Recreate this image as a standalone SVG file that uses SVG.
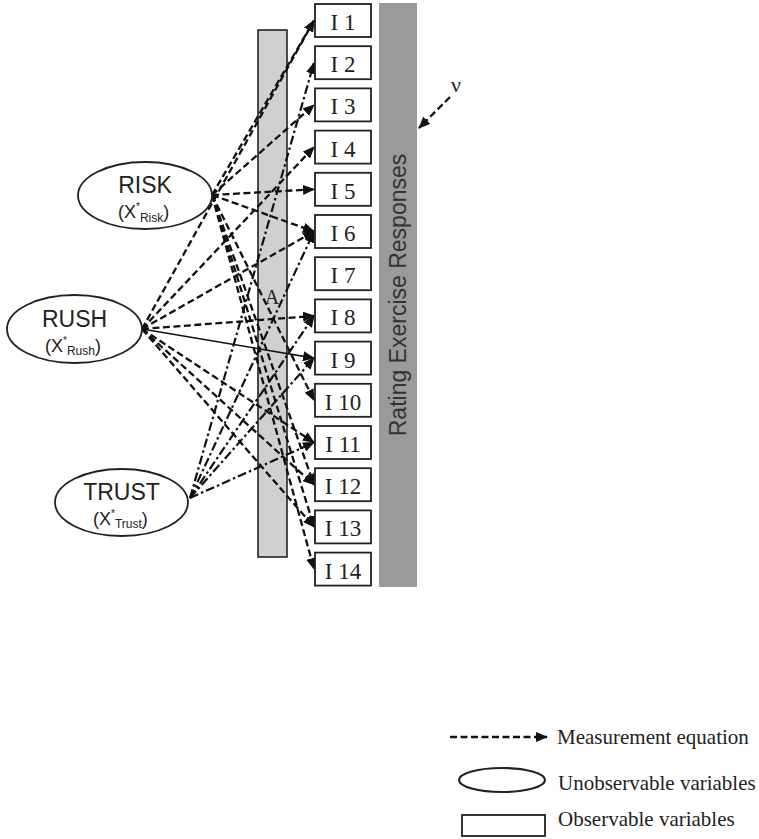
<svg xmlns="http://www.w3.org/2000/svg" width="759" height="839" viewBox="0 0 759 839">
<defs>
<marker id="ah" markerUnits="userSpaceOnUse" markerWidth="12" markerHeight="10" refX="11" refY="5" orient="auto"><path d="M0,0 L12,5 L0,10 z" fill="#111"/></marker>
</defs>
<style>
.box{fill:#fff;stroke:#222;stroke-width:1.8}
.lbl{font-family:"Liberation Serif","Times New Roman",serif;font-size:23px;fill:#222;text-anchor:middle}
.ell{fill:#fff;stroke:#222;stroke-width:1.8}
.ttl{font-family:"Liberation Sans",Arial,sans-serif;font-size:23px;fill:#222;text-anchor:middle}
.sub{font-family:"Liberation Sans",Arial,sans-serif;fill:#222}
.d{fill:none;stroke:#111;stroke-width:2.3;stroke-dasharray:7 3.5;marker-end:url(#ah)}
.dd{fill:none;stroke:#111;stroke-width:2.2;stroke-dasharray:9 3 2.5 3;marker-end:url(#ah)}
.s{fill:none;stroke:#111;stroke-width:1.6;marker-end:url(#ah)}
.leg{font-family:"Liberation Serif","Times New Roman",serif;font-size:21px;fill:#222}
</style>
<rect x="0" y="0" width="759" height="839" fill="#fff"/>
<g id="rating-bar">
<rect x="379" y="3" width="38" height="584" fill="#9a9a9a"/>
<text transform="translate(406,295) rotate(-90)" x="0" y="0" font-family="'Liberation Sans',Arial,sans-serif" font-size="23" fill="#333" text-anchor="middle">Rating Exercise Responses</text>
</g>
<g id="lambda-bar">
<rect x="258" y="30" width="29" height="527" fill="#d0d0d0" stroke="#222" stroke-width="1.6"/>
<text x="272" y="304" font-family="'Liberation Serif','Times New Roman',serif" font-size="20" fill="#222" text-anchor="middle">A</text>
</g>
<g id="connectors">
<line class="d" x1="212" y1="195" x2="314" y2="20.5"/>
<line class="d" x1="212" y1="195" x2="314" y2="104.9"/>
<line class="d" x1="212" y1="195" x2="314" y2="189.3"/>
<line class="d" x1="212" y1="195" x2="314" y2="231.5"/>
<line class="d" x1="212" y1="195" x2="314" y2="400.3"/>
<line class="d" x1="212" y1="195" x2="314" y2="484.7"/>
<line class="d" x1="212" y1="195" x2="314" y2="526.9"/>
<line class="d" x1="212" y1="195" x2="314" y2="569.1"/>
<line class="d" x1="142" y1="329" x2="314" y2="20.5"/>
<line class="d" x1="142" y1="329" x2="314" y2="147.1"/>
<line class="d" x1="142" y1="329" x2="314" y2="231.5"/>
<line class="d" x1="142" y1="329" x2="314" y2="315.9"/>
<line class="s" x1="142" y1="329" x2="314" y2="358.1"/>
<line class="d" x1="142" y1="329" x2="314" y2="442.5"/>
<line class="d" x1="142" y1="329" x2="314" y2="484.7"/>
<line class="d" x1="142" y1="329" x2="314" y2="526.9"/>
<line class="dd" x1="190" y1="498" x2="314" y2="62.7"/>
<line class="dd" x1="190" y1="498" x2="314" y2="231.5"/>
<line class="dd" x1="190" y1="498" x2="314" y2="315.9"/>
<line class="dd" x1="190" y1="498" x2="314" y2="358.1"/>
<line class="dd" x1="190" y1="498" x2="314" y2="442.5"/>
<line class="d" x1="450" y1="97" x2="419" y2="128"/>
</g>
<text x="456" y="92" font-family="'Liberation Serif','Times New Roman',serif" font-size="22" fill="#222" text-anchor="middle">ν</text>
<g id="RISK">
<ellipse class="ell" cx="145" cy="195.5" rx="67" ry="33.5"/>
<text class="ttl" x="145" y="193">RISK</text>
<text class="sub" x="118" y="218" font-size="18">(X<tspan font-size="10" dy="-8">*</tspan><tspan font-size="12" dy="12">Risk</tspan><tspan font-size="18" dy="-4">)</tspan></text>
</g>
<g id="RUSH">
<ellipse class="ell" cx="74.5" cy="329" rx="67.5" ry="34"/>
<text class="ttl" x="74.5" y="327">RUSH</text>
<text class="sub" x="45" y="352" font-size="18">(X<tspan font-size="10" dy="-8">*</tspan><tspan font-size="12" dy="11">Rush</tspan><tspan font-size="18" dy="-3">)</tspan></text>
</g>
<g id="TRUST">
<ellipse class="ell" cx="121.5" cy="502.5" rx="66.5" ry="33.5"/>
<text class="ttl" x="121.5" y="500">TRUST</text>
<text class="sub" x="93" y="525" font-size="18">(X<tspan font-size="10" dy="-8">*</tspan><tspan font-size="12" dy="11">Trust</tspan><tspan font-size="18" dy="-3">)</tspan></text>
</g>
<g id="I1"><rect class="box" x="315" y="4" width="56" height="33"/><text class="lbl" x="343" y="30">I 1</text></g>
<g id="I2"><rect class="box" x="315" y="46.2" width="56" height="33"/><text class="lbl" x="343" y="72.2">I 2</text></g>
<g id="I3"><rect class="box" x="315" y="88.4" width="56" height="33"/><text class="lbl" x="343" y="114.4">I 3</text></g>
<g id="I4"><rect class="box" x="315" y="130.6" width="56" height="33"/><text class="lbl" x="343" y="156.6">I 4</text></g>
<g id="I5"><rect class="box" x="315" y="172.8" width="56" height="33"/><text class="lbl" x="343" y="198.8">I 5</text></g>
<g id="I6"><rect class="box" x="315" y="215" width="56" height="33"/><text class="lbl" x="343" y="241">I 6</text></g>
<g id="I7"><rect class="box" x="315" y="257.2" width="56" height="33"/><text class="lbl" x="343" y="283.2">I 7</text></g>
<g id="I8"><rect class="box" x="315" y="299.4" width="56" height="33"/><text class="lbl" x="343" y="325.4">I 8</text></g>
<g id="I9"><rect class="box" x="315" y="341.6" width="56" height="33"/><text class="lbl" x="343" y="367.6">I 9</text></g>
<g id="I10"><rect class="box" x="315" y="383.8" width="56" height="33"/><text class="lbl" x="343" y="409.8">I 10</text></g>
<g id="I11"><rect class="box" x="315" y="426" width="56" height="33"/><text class="lbl" x="343" y="452">I 11</text></g>
<g id="I12"><rect class="box" x="315" y="468.2" width="56" height="33"/><text class="lbl" x="343" y="494.2">I 12</text></g>
<g id="I13"><rect class="box" x="315" y="510.4" width="56" height="33"/><text class="lbl" x="343" y="536.4">I 13</text></g>
<g id="I14"><rect class="box" x="315" y="552.6" width="56" height="33"/><text class="lbl" x="343" y="578.6">I 14</text></g>
<g id="legend">
<line class="d" x1="450" y1="737" x2="547" y2="737"/>
<text class="leg" x="557" y="744">Measurement equation</text>
<ellipse cx="502" cy="780" rx="43" ry="12" fill="#fff" stroke="#222" stroke-width="2.2"/>
<text class="leg" x="558" y="790">Unobservable variables</text>
<rect x="462" y="815" width="83" height="21" fill="#fff" stroke="#222" stroke-width="1.8"/>
<text class="leg" x="558" y="826">Observable variables</text>
</g>
</svg>
